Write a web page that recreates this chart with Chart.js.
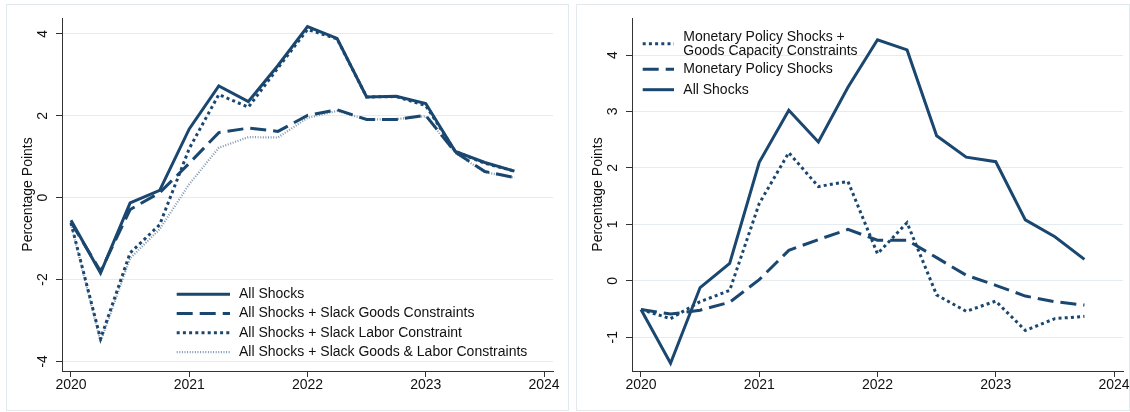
<!DOCTYPE html>
<html>
<head>
<meta charset="utf-8">
<script src="https://cdn.jsdelivr.net/npm/chart.js@4.4.1/dist/chart.umd.min.js"></script>
<style>
  html, body { margin: 0; padding: 0; background: #fff; }
  #wrap { position: relative; width: 1130px; height: 412px; overflow: hidden; }
  .frame { position: absolute; border: 1px solid #e1e9ec; box-sizing: border-box; }
  canvas { position: absolute; top: 0; }
</style>
</head>
<body>
<div id="wrap">
  <div class="frame" style="left:6px;top:4px;width:563px;height:407px"></div>
  <div class="frame" style="left:576px;top:4px;width:554px;height:407px"></div>
  <canvas id="leftPanel" width="570" height="412" style="left:0"></canvas>
  <canvas id="rightPanel" width="560" height="412" style="left:570px"></canvas>
</div>
<script>
// Quarterly observations, 2020Q1 .. 2023Q4 (decimal years)
const quarters = [2020, 2020.25, 2020.5, 2020.75, 2021, 2021.25, 2021.5, 2021.75,
                  2022, 2022.25, 2022.5, 2022.75, 2023, 2023.25, 2023.5, 2023.75];

// Left panel: counterfactuals with slack constraints
const allShocksL = [-0.55, -1.84, -0.13, 0.18, 1.68, 2.73, 2.35, 3.23, 4.18, 3.89, 2.46, 2.48, 2.30, 1.13, 0.86, 0.65];
const slackGoods = [-0.60, -1.80, -0.29, 0.12, 0.84, 1.59, 1.70, 1.62, 2.01, 2.15, 1.91, 1.91, 2.01, 1.11, 0.64, 0.49];
const slackLabor = [-0.62, -3.45, -1.35, -0.66, 1.20, 2.52, 2.21, 3.17, 4.11, 3.88, 2.46, 2.47, 2.25, 1.13, 0.84, 0.65];
const slackBoth  = [-0.65, -3.52, -1.48, -0.77, 0.33, 1.22, 1.48, 1.47, 1.95, 2.12, 1.91, 1.92, 1.99, 1.09, 0.62, 0.49];

// Right panel: monetary policy decomposition
const allShocksR = [-0.51, -1.46, -0.12, 0.31, 2.10, 3.02, 2.46, 3.43, 4.27, 4.09, 2.57, 2.19, 2.11, 1.08, 0.78, 0.38];
const mpShocks   = [-0.51, -0.59, -0.52, -0.38, 0.02, 0.54, 0.73, 0.91, 0.72, 0.72, 0.41, 0.10, -0.08, -0.27, -0.37, -0.43];
const mpGoods    = [-0.51, -0.67, -0.37, -0.17, 1.37, 2.27, 1.67, 1.76, 0.48, 1.03, -0.25, -0.54, -0.36, -0.88, -0.67, -0.63];

// Tick labels
const yearTicks  = [2020, 2021, 2022, 2023, 2024];
const leftTicks  = [-4, -2, 0, 2, 4];
const rightTicks = [-1, 0, 1, 2, 3, 4];

// Series labels
const leftLabels = [
  ['All Shocks'],
  ['All Shocks + Slack Goods Constraints'],
  ['All Shocks + Slack Labor Constraint'],
  ['All Shocks + Slack Goods & Labor Constraints']
];
const rightLabels = [
  ['All Shocks'],
  ['Monetary Policy Shocks'],
  ['Monetary Policy Shocks +', 'Goods Capacity Constraints']
];
const yTitle = 'Percentage Points';

const NAVY = '#1a476f';
const FONT = '"Liberation Sans", Arial, sans-serif';
const INK = '#111';
const AXIS = '#333';

const styles = {
  solid:  { borderColor: NAVY, borderWidth: 3, borderDash: [] },
  dash:   { borderColor: NAVY, borderWidth: 3, borderDash: [16, 7] },
  dot:    { borderColor: NAVY, borderWidth: 3, borderDash: [3, 3.2] },
  hair:   { borderColor: '#8098b2', borderWidth: 2.2, borderDash: [1, 1.6] }
};

function series(label, values, style) {
  return Object.assign({
    label: label,
    data: values.map((v, i) => ({ x: quarters[i], y: v })),
    fill: false, tension: 0, pointRadius: 0, pointHoverRadius: 0,
    borderJoinStyle: 'miter', borderCapStyle: 'butt'
  }, style);
}

// Rotated y tick labels, rotated axis title and an in-plot legend
const panelDecor = {
  id: 'panelDecor',
  afterDraw(chart, args, opts) {
    const ctx = chart.ctx, area = chart.chartArea, ys = chart.scales.y;
    ctx.save();
    ctx.fillStyle = INK;
    ctx.font = '14px ' + FONT;
    ctx.textAlign = 'center';
    ctx.textBaseline = 'middle';
    ys.ticks.forEach(t => {
      const py = ys.getPixelForValue(t.value);
      ctx.save();
      ctx.translate(area.left - opts.tickLabelOffset, py);
      ctx.rotate(-Math.PI / 2);
      ctx.fillText(String(t.value), 0, 0);
      ctx.restore();
    });
    ctx.save();
    ctx.translate(area.left - opts.titleOffset, (area.top + area.bottom) / 2);
    ctx.rotate(-Math.PI / 2);
    ctx.fillText(opts.title, 0, 0);
    ctx.restore();

    const lg = opts.legend;
    ctx.textAlign = 'left';
    lg.order.forEach((dsIndex, row) => {
      const ds = chart.data.datasets[dsIndex];
      const cy = lg.rows[row];
      ctx.save();
      ctx.strokeStyle = ds.borderColor;
      ctx.lineWidth = ds.borderWidth;
      ctx.setLineDash(ds.borderDash || []);
      ctx.beginPath();
      ctx.moveTo(lg.x0, cy);
      ctx.lineTo(lg.x0 + lg.len, cy);
      ctx.stroke();
      ctx.restore();
      const lines = ds.label;
      const first = cy - (lines.length - 1) * lg.lineH / 2;
      lines.forEach((s, k) => ctx.fillText(s, lg.textX, first + k * lg.lineH));
    });
    ctx.restore();
  }
};

function makePanel(id, datasets, yMin, yMax, yTicks, padRight, legend) {
  return new Chart(document.getElementById(id), {
    type: 'line',
    data: { datasets: datasets },
    plugins: [panelDecor],
    options: {
      responsive: false,
      animation: false,
      events: [],
      layout: { padding: { top: 18, bottom: 0, left: 0, right: padRight } },
      plugins: {
        legend: { display: false },
        tooltip: { enabled: false },
        panelDecor: { tickLabelOffset: 19, titleOffset: 34, title: yTitle, legend: legend }
      },
      scales: {
        x: {
          type: 'linear',
          min: 2019.924, max: 2024.076,
          afterBuildTicks: s => { s.ticks = yearTicks.map(v => ({ value: v })); },
          afterFit: s => { s.height = 41; },
          ticks: { color: INK, font: { size: 14, family: FONT }, padding: 0,
                   maxRotation: 0, minRotation: 0, callback: v => String(v) },
          grid: { drawOnChartArea: false, drawTicks: true, tickLength: 6, tickColor: AXIS, tickWidth: 1 },
          border: { display: true, color: AXIS, width: 1 }
        },
        y: {
          type: 'linear',
          min: yMin, max: yMax,
          afterBuildTicks: s => { s.ticks = yTicks.map(v => ({ value: v })); },
          afterFit: s => { s.width = 62; },
          ticks: { display: false },
          grid: { color: '#e4ecf0', lineWidth: 1, drawTicks: true, tickLength: 6, tickColor: AXIS, tickWidth: 1 },
          border: { display: true, color: AXIS, width: 1 }
        }
      }
    }
  });
}

makePanel('leftPanel', [
  series(leftLabels[0], allShocksL, styles.solid),
  series(leftLabels[1], slackGoods, styles.dash),
  series(leftLabels[2], slackLabor, styles.dot),
  series(leftLabels[3], slackBoth, styles.hair)
], -4.235, 4.39, leftTicks, 17,
{ x0: 176.7, len: 53.3, textX: 239, lineH: 14, rows: [294.2, 313.5, 332.8, 352.1], order: [0, 1, 2, 3] });

makePanel('rightPanel', [
  series(rightLabels[0], allShocksR, styles.solid),
  series(rightLabels[1], mpShocks, styles.dash),
  series(rightLabels[2], mpGoods, styles.dot)
], -1.598, 4.656, rightTicks, 7,
{ x0: 72.7, len: 31.3, textX: 113.3, lineH: 14, rows: [43.7, 69.3, 89.7], order: [2, 1, 0] });
</script>
</body>
</html>
